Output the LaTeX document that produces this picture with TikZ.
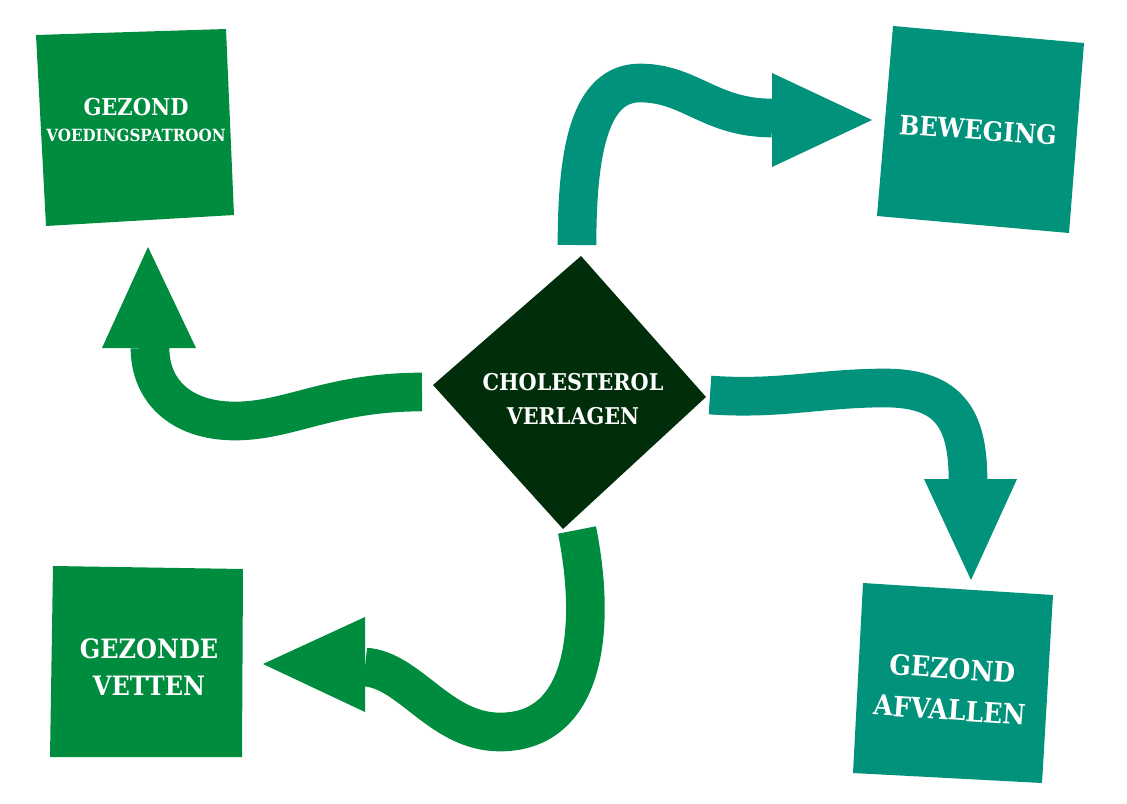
\documentclass[tikz,border=0pt]{standalone}
\usepackage{fontspec}
\newfontfamily\slab{DejaVu Serif}[FakeStretch=0.9]
\definecolor{cgreen}{RGB}{0,140,62}
\definecolor{cteal}{RGB}{0,146,122}
\definecolor{cdark}{RGB}{0,45,10}
\tikzset{
  lbl/.style={text=white, align=center, inner sep=0pt, font=\slab\bfseries\fontsize{20}{25}\selectfont},
  shaft/.style={line width=29pt},
}
\begin{document}
\begin{tikzpicture}[x=0.75pt,y=-0.75pt]
\fill[white] (0,0) rectangle (1127,803);
\useasboundingbox (0,0) rectangle (1127,803);

% boxes
\fill[cgreen] (36,35) -- (226,29) -- (234,215) -- (46,226) -- cycle;
\fill[cteal] (893,26) -- (1084,43) -- (1069,233) -- (877,216) -- cycle;
\fill[cdark] (581,256) -- (706,397) -- (563,529) -- (433,385) -- cycle;
\fill[cgreen] (53,566) -- (243,569) -- (242,757) -- (50,757) -- cycle;
\fill[cteal] (863,583) -- (1053,595) -- (1042,783) -- (853,773) -- cycle;

% labels
\node[lbl, font=\slab\bfseries\fontsize{12.6}{20}\selectfont] (voeding) at (136,120)
  {{\fontsize{17.5}{17.5}\selectfont GEZOND}\\VOEDINGSPATROON};
\node[lbl, rotate=-4] (beweging) at (978,130) {BEWEGING};
\node[lbl, font=\slab\bfseries\fontsize{17.3}{25}\selectfont] (chol) at (573,399) {CHOLESTEROL\\VERLAGEN};
\node[lbl, font=\slab\bfseries\fontsize{20}{28}\selectfont] (vetten) at (149,667) {GEZONDE\\VETTEN};
\node[lbl, rotate=-4, font=\slab\bfseries\fontsize{21}{31}\selectfont] (afvallen) at (951,689) {GEZOND\\AFVALLEN};

% arrow to voeding
\coordinate (a1s) at (422,392);
\coordinate (a1e) at (150,348);
\draw[shaft, cgreen] (a1s) .. controls (330,392) and (290,421) .. (235,421)
  .. controls (180,421) and (150,390) .. (a1e);
\fill[cgreen] (102,348) -- (148,247) -- (196,348) -- cycle;

% arrow to beweging
\coordinate (a2s) at (577,245);
\coordinate (a2e) at (772,118);
\draw[shaft, cteal] (a2s) .. controls (577,150) and (590,83) .. (640,83)
  .. controls (690,83) and (710,118) .. (a2e);
\fill[cteal] (772,73) -- (872,120) -- (772,167) -- cycle;

% arrow to afvallen
\coordinate (a3s) at (710,395);
\coordinate (a3e) at (968,480);
\draw[shaft, cteal] (a3s) .. controls (780,400) and (820,388) .. (885,388)
  .. controls (950,388) and (968,420) .. (a3e);
\fill[cteal] (924,479) -- (971,580) -- (1017,479) -- cycle;

% arrow to vetten
\coordinate (a4s) at (577,530);
\coordinate (a4e) at (365,667);
\draw[shaft, cgreen] (a4s) .. controls (597,630) and (585,732) .. (500,732)
  .. controls (440,732) and (410,670) .. (a4e);
\fill[cgreen] (365,617) -- (263,664) -- (365,712) -- cycle;
\end{tikzpicture}
\end{document}
